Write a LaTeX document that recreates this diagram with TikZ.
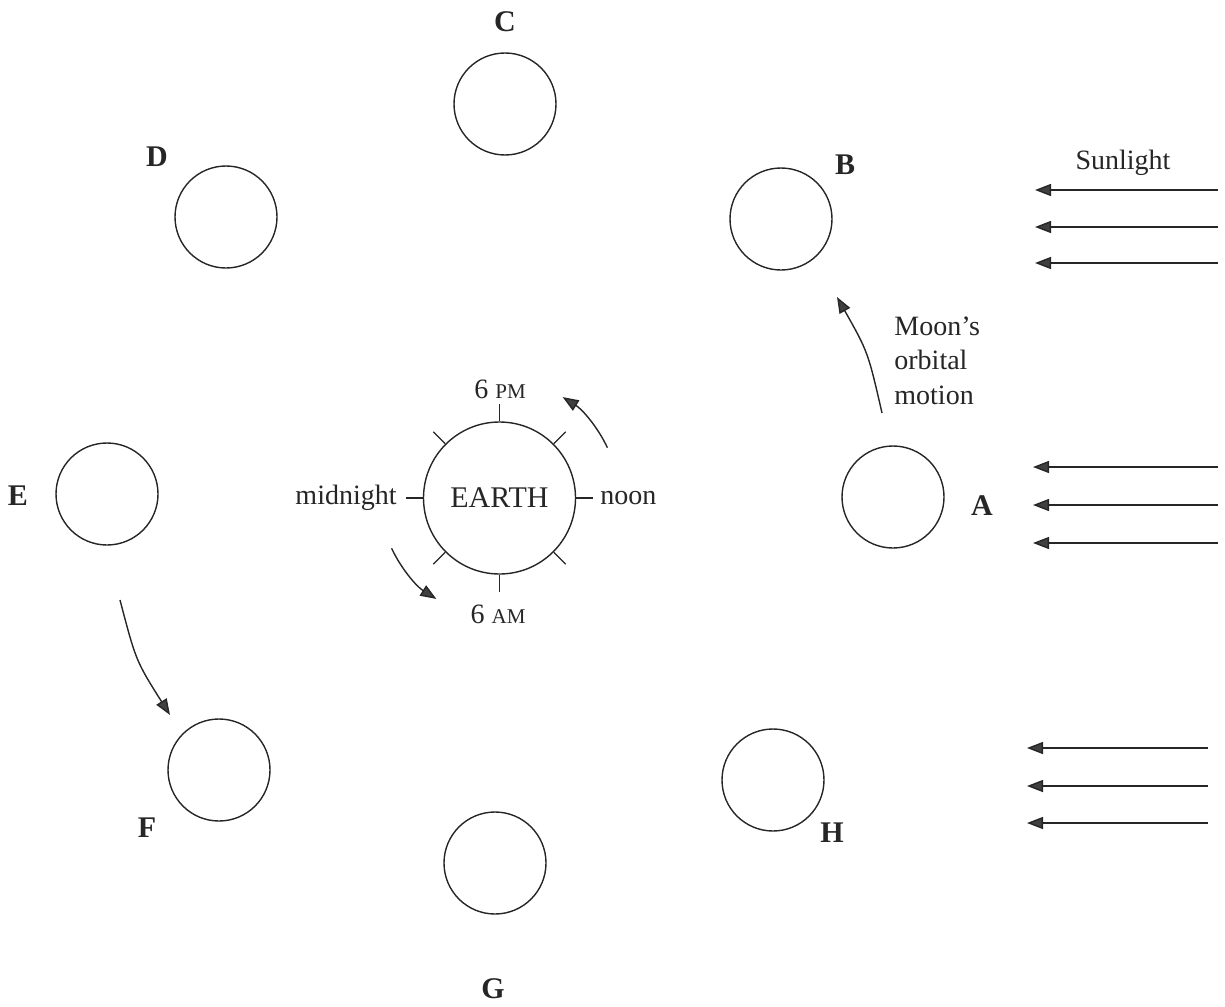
\documentclass[tikz,border=0pt]{standalone}
\usepackage{fontspec}
\setmainfont{Liberation Serif}
\usetikzlibrary{arrows.meta,calc}
\begin{document}
\begin{tikzpicture}[x=0.5pt,y=-0.5pt,
  moon/.style={circle,draw=black!85,line width=0.7pt,minimum size=51pt,inner sep=0pt},
  lbl/.style={font=\fontsize{15}{17}\selectfont\bfseries,text=black!85},
  txt/.style={font=\fontsize{14}{17.3}\selectfont,text=black!85},
  arr/.style={line width=0.7pt,draw=black!85,-{Triangle[length=8pt,width=6pt,fill=black!75]}},
  ray/.style={line width=0.7pt,draw=black!85,-{Triangle[length=8pt,width=6pt,fill=black!75]}},
  tickline/.style={line width=0.6pt,draw=black!85}]
\useasboundingbox (0,0) rectangle (1225,1006);
% moons
\node[moon] (A) at (893,497) {};
\node[moon] (B) at (781,219) {};
\node[moon] (C) at (505,104) {};
\node[moon] (D) at (226,217) {};
\node[moon] (E) at (107,494) {};
\node[moon] (F) at (219,770) {};
\node[moon] (G) at (495,863) {};
\node[moon] (H) at (773,780) {};
% labels
\node[lbl] (lA) at (982,506) {A};
\node[lbl] (lB) at (845,165) {B};
\node[lbl] (lC) at (505,22) {C};
\node[lbl] (lD) at (157,157) {D};
\node[lbl] (lE) at (18,496) {E};
\node[lbl] (lF) at (147,828) {F};
\node[lbl] (lG) at (493,989) {G};
\node[lbl] (lH) at (832,833) {H};
% earth
\node[circle,draw=black!85,line width=0.7pt,minimum size=76pt,inner sep=0pt,txt,font=\fontsize{15}{17}\selectfont] (earth) at (499.5,498) {EARTH};
\foreach \a in {0,45,...,315}
  \draw[tickline] (earth.\a) -- ($(earth.center)!1.22!(earth.\a)$);
\node[txt] (pm) at (500,389) {6 {\fontsize{10.5}{11}\selectfont PM}};
\node[txt] (am) at (498,614) {6 {\fontsize{10.5}{11}\selectfont AM}};
\node[txt,anchor=east,inner sep=0pt] (mid) at (397,498) {midnight};
\node[txt,anchor=west,inner sep=0pt] (noon) at (600,498) {noon};
% rotation arrows (arcs about the Earth)
\coordinate (r1s) at (607.4,447.7);
\coordinate (r2s) at (391.6,548.3);
\draw[arr] (r1s) arc[start angle=-25, end angle=-58, radius=119];
\draw[arr] (r2s) arc[start angle=-205, end angle=-238, radius=119];
% orbital motion
\coordinate (o1s) at (882,413);
\coordinate (o1e) at (837,297);
\draw[arr] (o1s) .. controls (868,352) .. (o1e);
\node[txt,anchor=north west,align=left,inner sep=0pt] (orb) at (894,316) {Moon's\\orbital\\motion};
\coordinate (o2s) at (120,600);
\coordinate (o2e) at (170,715);
\draw[arr] (o2s) .. controls (136,661) .. (o2e);
% sunlight
\node[txt] (sun) at (1123,163) {Sunlight};
\foreach \y in {190,227,263} {
  \coordinate (t) at (1218,\y); \coordinate (h) at (1035,\y);
  \draw[ray] (t) -- (h);}
\foreach \y in {467,505,543} {
  \coordinate (t) at (1218,\y); \coordinate (h) at (1033,\y);
  \draw[ray] (t) -- (h);}
\foreach \y in {748,786,823} {
  \coordinate (t) at (1208,\y); \coordinate (h) at (1027,\y);
  \draw[ray] (t) -- (h);}
\end{tikzpicture}
\end{document}
